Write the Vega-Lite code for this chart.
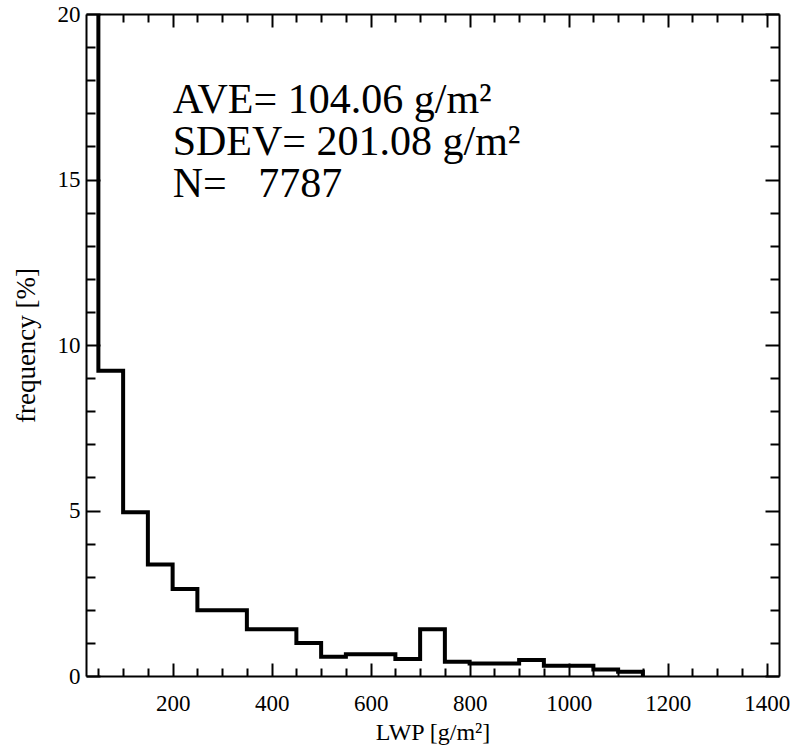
{
  "$schema": "https://vega.github.io/schema/vega-lite/v6.json",
  "width": 693,
  "height": 662,
  "autosize": {"type": "none"},
  "padding": {"left": 86, "top": 14, "right": 15, "bottom": 70},
  "background": "white",
  "config": {
    "view": {"stroke": null},
    "font": "Liberation Serif",
    "axis": {
      "domainColor": "black",
      "domainWidth": 2,
      "tickColor": "black",
      "tickWidth": 2,
      "grid": false,
      "labelColor": "black",
      "titleColor": "black",
      "labelFont": "Liberation Serif",
      "titleFont": "Liberation Serif",
      "titleFontWeight": "normal",
      "labelFlush": false,
      "labelOverlap": false
    }
  },
  "datasets": {
    "hist": [
      {"lwp": 0, "freq": 65.6},
      {"lwp": 50, "freq": 9.22},
      {"lwp": 100, "freq": 4.95},
      {"lwp": 150, "freq": 3.37},
      {"lwp": 200, "freq": 2.63},
      {"lwp": 250, "freq": 1.99},
      {"lwp": 300, "freq": 1.99},
      {"lwp": 350, "freq": 1.41},
      {"lwp": 400, "freq": 1.41},
      {"lwp": 450, "freq": 1.0},
      {"lwp": 500, "freq": 0.58},
      {"lwp": 550, "freq": 0.66},
      {"lwp": 600, "freq": 0.66},
      {"lwp": 650, "freq": 0.51},
      {"lwp": 700, "freq": 1.41},
      {"lwp": 750, "freq": 0.43},
      {"lwp": 800, "freq": 0.38},
      {"lwp": 850, "freq": 0.38},
      {"lwp": 900, "freq": 0.48},
      {"lwp": 950, "freq": 0.31},
      {"lwp": 1000, "freq": 0.31},
      {"lwp": 1050, "freq": 0.2},
      {"lwp": 1100, "freq": 0.13},
      {"lwp": 1150, "freq": 0}
    ],
    "notes": [
      {"label": "AVE= 104.06 g/m²", "lwp": 200, "freq": 17.0},
      {"label": "SDEV= 201.08 g/m²", "lwp": 200, "freq": 15.74},
      {"label": "N=\u00a0\u00a0\u00a07787", "lwp": 200, "freq": 14.48}
    ]
  },
  "layer": [
    {
      "data": {"name": "hist"},
      "mark": {"type": "line", "interpolate": "step-after", "color": "black", "strokeWidth": 4, "clip": true},
      "encoding": {
        "x": {
          "field": "lwp", "type": "quantitative",
          "scale": {"domain": [25, 1425], "nice": false, "zero": false},
          "axis": {
            "orient": "bottom",
            "values": [50,100,150,200,250,300,350,400,450,500,550,600,650,700,750,800,850,900,950,1000,1050,1100,1150,1200,1250,1300,1350,1400],
            "format": "d",
            "tickSize": {"condition": {"test": "datum.value % 200 === 0", "value": -13}, "value": -8},
            "labelExpr": "datum.value % 200 === 0 ? datum.label : ''",
            "labelFontSize": 23,
            "labelPadding": 29,
            "title": "LWP [g/m²]",
            "titleFontSize": 24,
            "titlePadding": 0
          }
        },
        "y": {
          "field": "freq", "type": "quantitative",
          "scale": {"domain": [0, 20], "nice": false},
          "axis": {
            "orient": "left",
            "values": [0,1,2,3,4,5,6,7,8,9,10,11,12,13,14,15,16,17,18,19,20],
            "format": "d",
            "tickSize": {"condition": {"test": "datum.value % 5 === 0", "value": -14}, "value": -9},
            "labelExpr": "datum.value % 5 === 0 ? datum.label : ''",
            "labelFontSize": 23,
            "labelPadding": 20,
            "title": "frequency [%]",
            "titleFontSize": 27,
            "titlePadding": 17
          }
        }
      }
    },
    {
      "data": {"name": "hist"},
      "mark": {"type": "line", "interpolate": "step-after", "opacity": 0, "clip": true},
      "encoding": {
        "x": {
          "field": "lwp", "type": "quantitative",
          "axis": {
            "orient": "top",
            "values": [50,100,150,200,250,300,350,400,450,500,550,600,650,700,750,800,850,900,950,1000,1050,1100,1150,1200,1250,1300,1350,1400],
            "tickSize": {"condition": {"test": "datum.value % 200 === 0", "value": -13}, "value": -8},
            "labels": false,
            "title": null
          }
        },
        "y": {
          "field": "freq", "type": "quantitative",
          "axis": {
            "orient": "right",
            "values": [0,1,2,3,4,5,6,7,8,9,10,11,12,13,14,15,16,17,18,19,20],
            "tickSize": {"condition": {"test": "datum.value % 5 === 0", "value": -14}, "value": -9},
            "labels": false,
            "title": null
          }
        }
      }
    },
    {
      "data": {"name": "notes"},
      "mark": {"type": "text", "align": "left", "baseline": "alphabetic", "fontSize": 42, "font": "Liberation Serif", "color": "black"},
      "encoding": {
        "x": {"field": "lwp", "type": "quantitative", "axis": null},
        "y": {"field": "freq", "type": "quantitative", "axis": null},
        "text": {"field": "label"}
      }
    }
  ],
  "resolve": {"axis": {"x": "independent", "y": "independent"}}
}
